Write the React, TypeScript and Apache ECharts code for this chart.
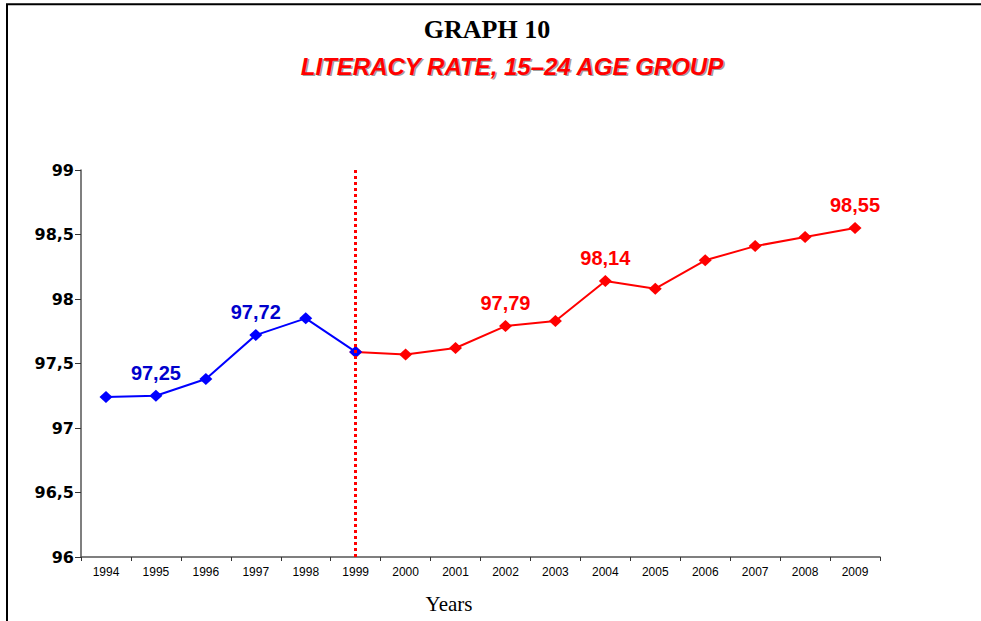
import React, { useEffect, useRef } from "react";
import * as echarts from "echarts";

const years = ["1994","1995","1996","1997","1998","1999","2000","2001","2002","2003","2004","2005","2006","2007","2008","2009"];
const blueValues: (number | null)[] = [97.24, 97.25, 97.38, 97.72, 97.85, 97.59, null, null, null, null, null, null, null, null, null, null];
const redValues: (number | null)[] = [null, null, null, null, null, 97.59, 97.57, 97.62, 97.79, 97.83, 98.14, 98.08, 98.30, 98.41, 98.48, 98.55];
const labeledYears = ["1995", "1997", "2002", "2004", "2009"];
const dividerYear = "1999";

const titleText = "GRAPH 10";
const subtitleText = "LITERACY RATE, 15\u201324 AGE GROUP";
const xAxisTitle = "Years";

const comma = (v: number) => String(v).replace(".", ",");

function buildData(vals: (number | null)[], color: string) {
  return vals.map((v, i) => {
    if (v === null) return null;
    const show = labeledYears.includes(years[i]);
    return {
      value: v,
      label: {
        show,
        position: "top",
        distance: 7,
        formatter: () => comma(v),
        color,
        fontFamily: "Liberation Sans, Arial, sans-serif",
        fontWeight: "bold",
        fontSize: 20,
      },
    };
  });
}

export default function App() {
  const ref = useRef<HTMLDivElement>(null);
  useEffect(() => {
    if (!ref.current) return;
    const chart = echarts.init(ref.current, null, { renderer: "svg" });
    chart.setOption({
      animation: false,
      backgroundColor: "#ffffff",
      grid: { left: 81, right: 101, top: 170, bottom: 64, containLabel: false },
      xAxis: {
        type: "category",
        data: years,
        boundaryGap: true,
        axisLine: { show: true, lineStyle: { color: "#555555", width: 1.5 } },
        axisTick: { show: true, length: 4, lineStyle: { color: "#333333" } },
        axisLabel: {
          color: "#000000",
          fontFamily: "Liberation Sans, Arial, sans-serif",
          fontSize: 12,
          margin: 9,
          interval: 0,
        },
        splitLine: { show: false },
      },
      yAxis: {
        type: "value",
        min: 96,
        max: 99,
        interval: 0.5,
        axisLine: { show: true, lineStyle: { color: "#555555", width: 1.5 } },
        axisTick: { show: true, length: 6, lineStyle: { color: "#333333" } },
        axisLabel: {
          color: "#000000",
          fontFamily: "DejaVu Sans, sans-serif",
          fontWeight: "bold",
          fontSize: 16,
          margin: 7,
          formatter: (v: number) => comma(v),
        },
        splitLine: { show: false },
      },
      graphic: [
        {
          type: "polyline",
          shape: { points: [[7, 621], [7, 4.3], [981, 4.3]] },
          style: { stroke: "#000000", lineWidth: 2, fill: "none" },
          silent: true,
        },
        {
          type: "text",
          x: 487,
          y: 29,
          style: {
            text: titleText,
            fill: "#000000",
            font: "bold 26px 'Liberation Serif', 'Times New Roman', serif",
            textAlign: "center",
            textVerticalAlign: "middle",
          },
        },
        {
          type: "text",
          x: 513.5,
          y: 67.5,
          style: {
            text: subtitleText,
            fill: "#a0a0a0",
            font: "italic bold 24px 'Liberation Sans', Arial, sans-serif",
            textAlign: "center",
            textVerticalAlign: "middle",
          },
        },
        {
          type: "text",
          x: 512,
          y: 66,
          style: {
            text: subtitleText,
            fill: "#ff0000",
            font: "italic bold 24px 'Liberation Sans', Arial, sans-serif",
            textAlign: "center",
            textVerticalAlign: "middle",
          },
        },
        {
          type: "text",
          x: 449,
          y: 604,
          style: {
            text: xAxisTitle,
            fill: "#000000",
            font: "21px 'Liberation Serif', 'Times New Roman', serif",
            textAlign: "center",
            textVerticalAlign: "middle",
          },
        },
      ],
      series: [
        {
          type: "line",
          name: "red",
          z: 2,
          data: buildData(redValues, "#ff0000"),
          connectNulls: false,
          symbol: "diamond",
          symbolSize: [13, 12],
          itemStyle: { color: "#ff0000" },
          lineStyle: { color: "#ff0000", width: 2 },
          markLine: {
            silent: true,
            symbol: "none",
            label: { show: false },
            lineStyle: { color: "#ff0000", type: [3, 3], width: 3 },
            data: [{ xAxis: dividerYear }],
          },
        },
        {
          type: "line",
          name: "blue",
          z: 3,
          data: buildData(blueValues, "#0000cc"),
          connectNulls: false,
          symbol: "diamond",
          symbolSize: [13, 12],
          itemStyle: { color: "#0000ff" },
          lineStyle: { color: "#0000ff", width: 2 },
        },
      ],
    });
    return () => chart.dispose();
  }, []);
  return (
    <div
      ref={ref}
      style={{ position: "fixed", left: 0, top: 0, width: 981, height: 621 }}
    />
  );
}
